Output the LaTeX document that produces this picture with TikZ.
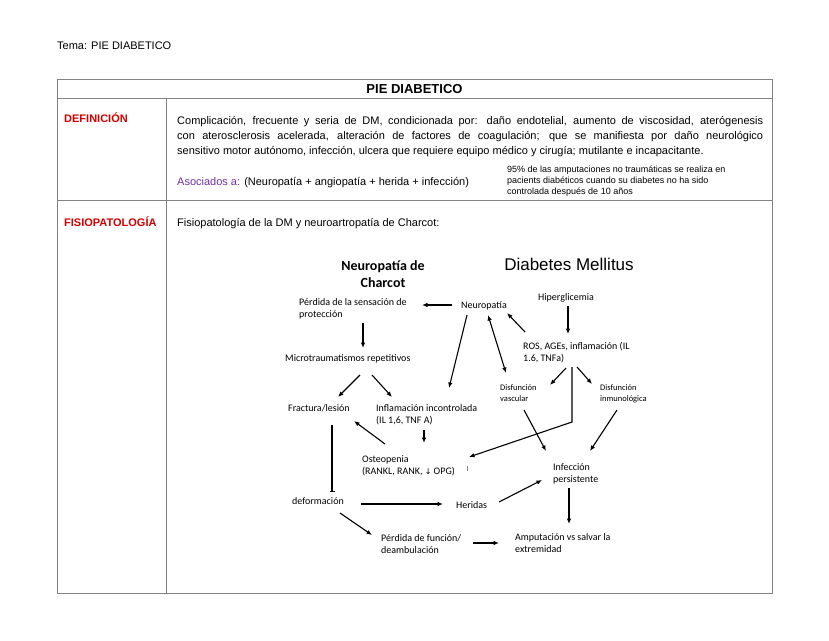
\documentclass[tikz,border=0pt]{standalone}
\usepackage{fontspec}
\setmainfont{Liberation Sans}
\newfontfamily\calib{Carlito}
\newfontfamily\djv{DejaVu Sans}
\usetikzlibrary{arrows.meta,calc}
\definecolor{defred}{RGB}{210,0,0}
\definecolor{asocpurple}{RGB}{112,48,160}
\definecolor{gridgray}{RGB}{130,130,130}
\tikzset{
  txt/.style={inner sep=0pt, anchor=base west, font=\fontsize{11}{15.5}\selectfont},
  lbl/.style={inner sep=0pt, anchor=base west, align=left, font=\calib\fontsize{10}{12}\selectfont},
  sml/.style={inner sep=0pt, anchor=base west, align=left, font=\calib\fontsize{8.5}{11}\selectfont},
  arr/.style={-{Latex[length=5.5pt,width=4.5pt]}, line width=1.1pt},
  grid/.style={draw=gridgray, line width=0.9pt},
}
\begin{document}
\begin{tikzpicture}[x=1pt,y=-1pt]
\useasboundingbox (0,0) rectangle (829,640);
% table
\draw[grid] (57,79) rectangle (772,593);
\draw[grid] (57,98) -- (772,98);
\draw[grid] (57,200) -- (772,200);
\draw[grid] (166,98) -- (166,593);
% texts
\node[txt] (tema) at (57,49) {Tema: PIE DIABETICO};
\node[inner sep=0pt, anchor=base, font=\bfseries\fontsize{13}{15}\selectfont] (title) at (414.5,93) {PIE DIABETICO};
\node[txt, font=\bfseries\fontsize{11}{15.5}\selectfont, text=defred] (defl) at (64,122) {DEFINICIÓN};
\node[txt] (p1) at (177,124) {\makebox[586pt][s]{Complicación, frecuente y seria de DM, condicionada por: daño endotelial, aumento de viscosidad, aterógenesis}};
\node[txt] (p2) at (177,139) {\makebox[586pt][s]{con aterosclerosis acelerada, alteración de factores de coagulación; que se manifiesta por daño neurológico}};
\node[txt] (p3) at (177,154) {sensitivo motor autónomo, infección, ulcera que requiere equipo médico y cirugía; mutilante e incapacitante.};
\node[txt] (asoc) at (177,185) {\textcolor{asocpurple}{Asociados a:} (Neuropatía + angiopatía + herida + infección)};
\node[inner sep=0pt, anchor=base west, align=left, font=\fontsize{9}{11}\selectfont] (note) at (507,194) {95\% de las amputaciones no traumáticas se realiza en\\pacients diabéticos cuando su diabetes no ha sido\\controlada después de 10 años};
\node[txt, font=\bfseries\fontsize{11}{15.5}\selectfont, text=defred] (fisl) at (64,226) {FISIOPATOLOGÍA};
\node[txt] (fist) at (177,226) {Fisiopatología de la DM y neuroartropatía de Charcot:};
% flowchart headings
\node[inner sep=0pt, anchor=base, align=center, font=\calib\bfseries\fontsize{14}{17}\selectfont] (hdN) at (383,287) {Neuropatía de\\Charcot};
\node[inner sep=0pt, anchor=base, font=\fontsize{17}{20}\selectfont] (hdD) at (569,270) {Diabetes Mellitus};
% flowchart nodes (base west = baseline of last line)
\node[lbl] (perd) at (299,317) {Pérdida de la sensación de\\protección};
\node[lbl] (neuro) at (461,308) {Neuropatía};
\node[lbl] (hiper) at (538,300) {Hiperglicemia};
\node[lbl] (ros) at (523,361) {ROS, AGEs, inflamación (IL\\1.6, TNFa)};
\node[lbl] (micro) at (285,361) {Microtraumatismos repetitivos};
\node[sml] (dvas) at (500,401) {Disfunción\\vascular};
\node[sml] (dinm) at (600,401) {Disfunción\\inmunológica};
\node[lbl] (fract) at (288,411) {Fractura/lesión};
\node[lbl] (infl) at (376,423) {Inflamación incontrolada\\(IL 1,6, TNF A)};
\node[lbl] (osteo) at (362,474) {Osteopenia\\(RANKL, RANK, {\djv\fontsize{8}{10}\selectfont ↓} OPG)};
\node[lbl] (infec) at (553,482) {Infección\\persistente};
\node[lbl] (deform) at (292,504) {deformación};
\node[lbl] (herid) at (456,508) {Heridas};
\node[lbl] (perdf) at (381,553) {Pérdida de función/\\deambulación};
\node[lbl] (amput) at (515,552) {Amputación vs salvar la\\extremidad};
% connectors
\draw[arr] ($(neuro.base west)+(-9,-3)$) -- ($(perd.base west)+(123,-12)$);
\draw[arr] ($(perd.base west)+(64,6)$) -- ($(micro.base west)+(78,-13)$);
\draw[arr] ($(micro.base west)+(75,14)$) -- ($(fract.base west)+(50,-14)$);
\draw[arr] ($(micro.base west)+(87,14)$) -- ($(infl.base west)+(16,-26)$);
\draw[arr] ($(neuro.base west)+(6,7)$) -- ($(infl.base west)+(73,-35)$);
\draw[{Latex[length=5.5pt,width=4.5pt]}-{Latex[length=5.5pt,width=4.5pt]}, line width=1.1pt] ($(neuro.base west)+(27,7)$) -- ($(dvas.base west)+(6,-28)$);
\draw[arr] ($(ros.base west)+(2,-29)$) -- ($(neuro.base west)+(46,5)$);
\draw[arr] ($(hiper.base west)+(30,6)$) -- ($(ros.base west)+(45,-27)$);
\draw[arr] ($(ros.base west)+(43,7)$) -- ($(dvas.base west)+(50,-16)$);
\draw[arr] ($(ros.base west)+(54,6)$) -- ($(dinm.base west)+(-8,-17)$);
\coordinate (bend) at (572,422);
\draw[arr] ($(ros.base west)+(49,6)$) -- (bend) -- ($(osteo.base west)+(107,-17)$);
\draw[arr] ($(infl.base west)+(48,7)$) -- ($(osteo.base west)+(62,-31)$);
\draw[arr] ($(osteo.base west)+(23,-30)$) -- ($(fract.base west)+(66,10)$);
\draw[-{Bar[width=5pt]}, line width=1.1pt] ($(fract.base west)+(44,14)$) -- ($(deform.base west)+(40,-12)$);
\draw[arr] ($(deform.base west)+(69,0)$) -- ($(herid.base west)+(-13,-4)$);
\draw[arr] ($(herid.base west)+(43,-6)$) -- ($(infec.base west)+(-11,-2)$);
\draw[arr] ($(deform.base west)+(48,9)$) -- ($(perdf.base west)+(-9,-18)$);
\draw[arr] ($(perdf.base west)+(92,-10)$) -- ($(amput.base west)+(-16,-9)$);
\draw[arr] ($(infec.base west)+(16,6)$) -- ($(amput.base west)+(54,-28)$);
\draw[arr] ($(dvas.base west)+(24,9)$) -- ($(infec.base west)+(-7,-31)$);
\draw[arr] ($(dinm.base west)+(17,9)$) -- ($(infec.base west)+(37,-31)$);
% small mark
\draw[gray, line width=0.8pt] ($(osteo.base west)+(105,-8)$) -- ($(osteo.base west)+(105,-3)$);
\end{tikzpicture}
\end{document}
